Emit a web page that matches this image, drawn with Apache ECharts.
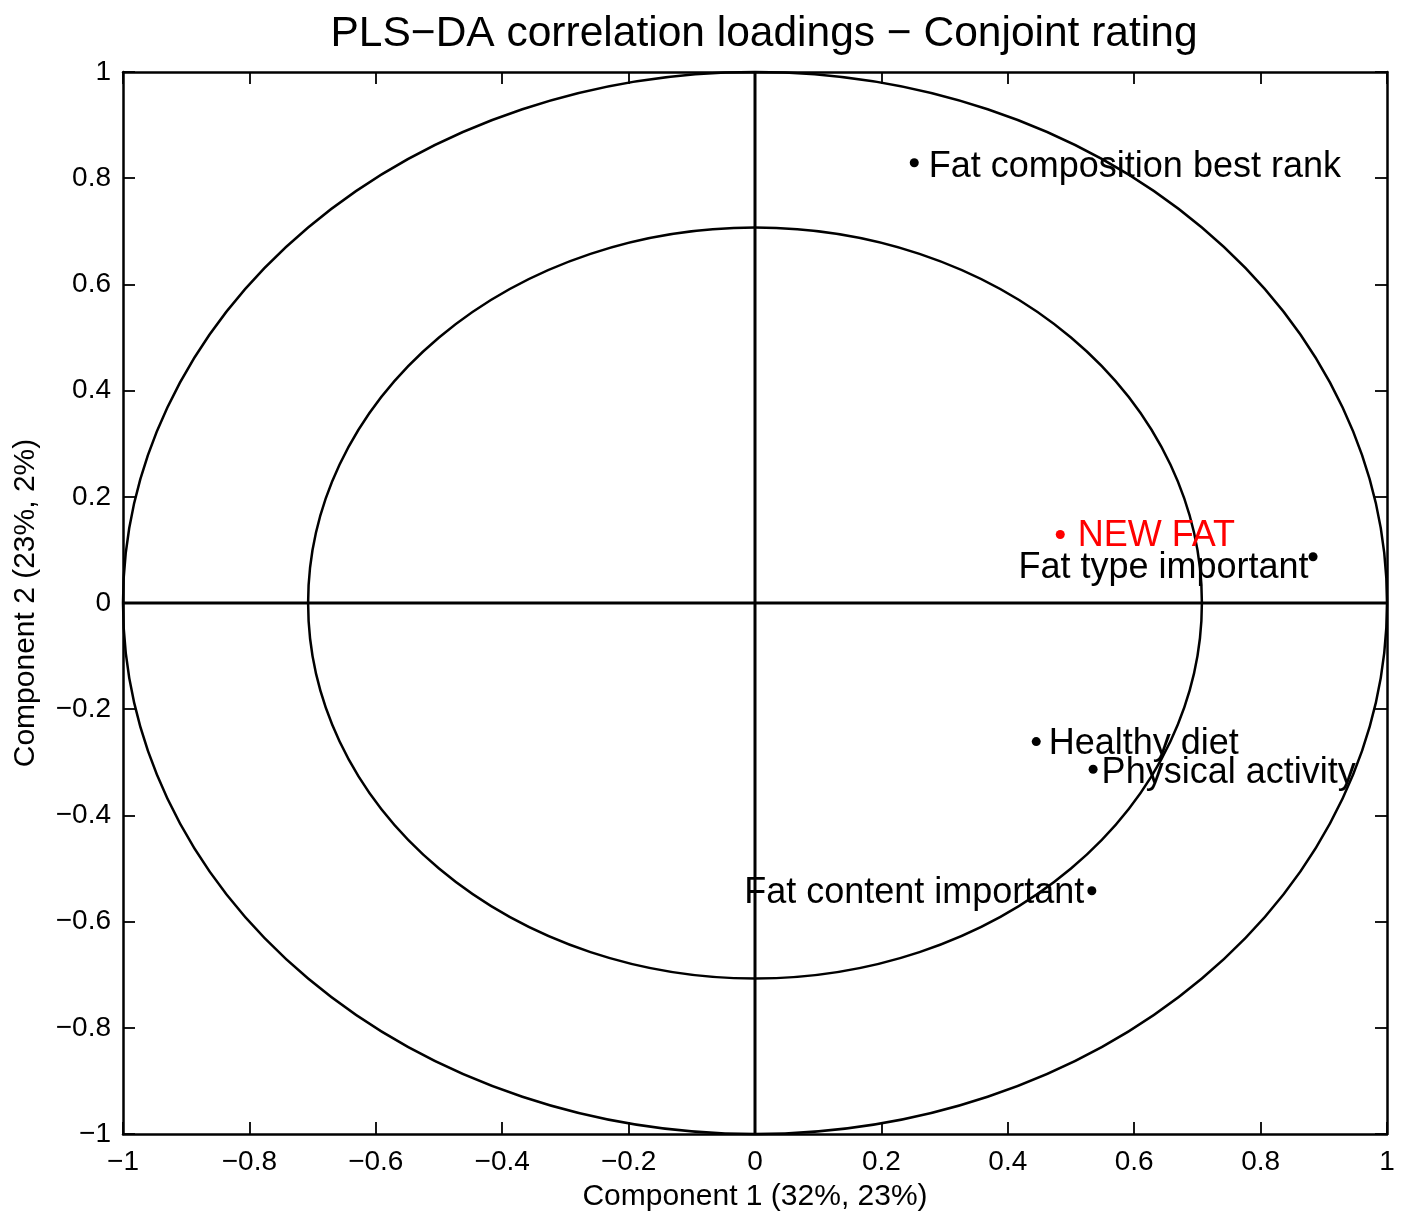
<!DOCTYPE html>
<html>
<head>
<meta charset="utf-8">
<script src="https://cdn.jsdelivr.net/npm/echarts@6/dist/echarts.min.js"></script>
<style>
html,body{margin:0;padding:0;background:#fff;}
#chart{width:1404px;height:1226px;}
</style>
</head>
<body>
<div id="chart"></div>
<script>
// ---- data ----
const variableNames = ["Fat composition best rank", "NEW FAT", "Fat type important", "Healthy diet", "Physical activity", "Fat content important"];
const component1 = [0.252, 0.483, 0.883, 0.445, 0.535, 0.533];
const component2 = [0.829, 0.129, 0.087, -0.261, -0.313, -0.542];
const circleRadii = [1, 0.7071];
const axisTicks = [-1, -0.8, -0.6, -0.4, -0.2, 0, 0.2, 0.4, 0.6, 0.8, 1];
const titleText = "PLS\u2212DA correlation loadings \u2212 Conjoint rating";
const xAxisTitle = "Component 1 (32%, 23%)";
const yAxisTitle = "Component 2 (23%, 2%)";

// ---- styles ----
const FONT = "'Liberation Sans', Arial, Helvetica, sans-serif";
const labelStyles = {
  "Fat composition best rank": {position: 'right', distance: 10, offset: [0, 4]},
  "NEW FAT": {position: 'right', distance: 13, offset: [0, 2]},
  "Fat type important": {position: 'left', distance: 0, offset: [0, 11]},
  "Healthy diet": {position: 'right', distance: 8, offset: [0, 2]},
  "Physical activity": {position: 'right', distance: 4, offset: [0, 4]},
  "Fat content important": {position: 'left', distance: 3, offset: [0, 2]}
};
const pointColors = {"NEW FAT": '#ff0000'};

const fmt = v => String(Math.round(v * 10) / 10).replace('-', '\u2212');

const scatterData = variableNames.map((n, i) => {
  const ls = labelStyles[n];
  const c = pointColors[n] || '#000000';
  return {
    name: n,
    value: [component1[i], component2[i]],
    itemStyle: {color: c, opacity: 1},
    label: {show: true, formatter: n, position: ls.position, distance: ls.distance, offset: ls.offset, color: c, fontSize: 36, fontFamily: FONT}
  };
});

const lo = axisTicks[0], hi = axisTicks[axisTicks.length - 1];
const step = Math.round((axisTicks[1] - axisTicks[0]) * 10) / 10;

const baseAxis = {
  type: 'value', min: lo, max: hi, interval: step,
  axisLine: {show: true, onZero: false, lineStyle: {color: '#000', width: 2.5}},
  axisTick: {show: true, inside: true, length: 12, lineStyle: {color: '#000', width: 1.8}},
  splitLine: {show: false},
  axisLabel: {show: true, color: '#000', fontSize: 28, fontFamily: FONT, formatter: fmt}
};

const chart = echarts.init(document.getElementById('chart'), null, {renderer: 'canvas'});
chart.setOption({
  backgroundColor: '#fff',
  animation: false,
  title: {
    text: titleText, left: 759, top: 8, textAlign: 'center',
    textStyle: {fontSize: 42.5, fontWeight: 'normal', color: '#000', fontFamily: FONT}
  },
  grid: {left: 123, right: 17, top: 72, bottom: 92, containLabel: false},
  xAxis: [
    Object.assign({}, baseAxis, {position: 'bottom', name: xAxisTitle, nameLocation: 'middle', nameGap: 48,
      nameTextStyle: {fontSize: 30, color: '#000', fontFamily: FONT},
      axisLabel: Object.assign({}, baseAxis.axisLabel, {margin: 14})}),
    Object.assign({}, baseAxis, {position: 'top', axisLabel: {show: false}})
  ],
  yAxis: [
    Object.assign({}, baseAxis, {position: 'left', name: yAxisTitle, nameLocation: 'middle', nameGap: 82,
      nameTextStyle: {fontSize: 30, color: '#000', fontFamily: FONT},
      axisLabel: Object.assign({}, baseAxis.axisLabel, {margin: 12})}),
    Object.assign({}, baseAxis, {position: 'right', axisLabel: {show: false}})
  ],
  series: [
    {
      type: 'custom',
      xAxisIndex: 0, yAxisIndex: 0,
      silent: true,
      data: circleRadii.map(r => [0, 0, r]),
      renderItem: function (params, api) {
        const c = api.coord([api.value(0), api.value(1)]);
        const sz = api.size([api.value(2), api.value(2)]);
        const rx = sz[0], ry = sz[1];
        const d = 'M' + (c[0] - rx) + ' ' + c[1] +
          ' A' + rx + ' ' + ry + ' 0 1 0 ' + (c[0] + rx) + ' ' + c[1] +
          ' A' + rx + ' ' + ry + ' 0 1 0 ' + (c[0] - rx) + ' ' + c[1] + ' Z';
        return {type: 'path', shape: {pathData: d}, style: {fill: null, stroke: '#000', lineWidth: 2.5}};
      },
      z: 1
    },
    {
      type: 'line', xAxisIndex: 0, yAxisIndex: 0, silent: true, symbol: 'none',
      data: [[lo, 0], [hi, 0]], lineStyle: {color: '#000', width: 3}, z: 2
    },
    {
      type: 'line', xAxisIndex: 0, yAxisIndex: 0, silent: true, symbol: 'none',
      data: [[0, lo], [0, hi]], lineStyle: {color: '#000', width: 3}, z: 2
    },
    {
      type: 'scatter', xAxisIndex: 0, yAxisIndex: 0,
      symbol: 'circle', symbolSize: 9,
      itemStyle: {opacity: 1},
      data: scatterData,
      z: 5
    }
  ]
});
</script>
</body>
</html>
